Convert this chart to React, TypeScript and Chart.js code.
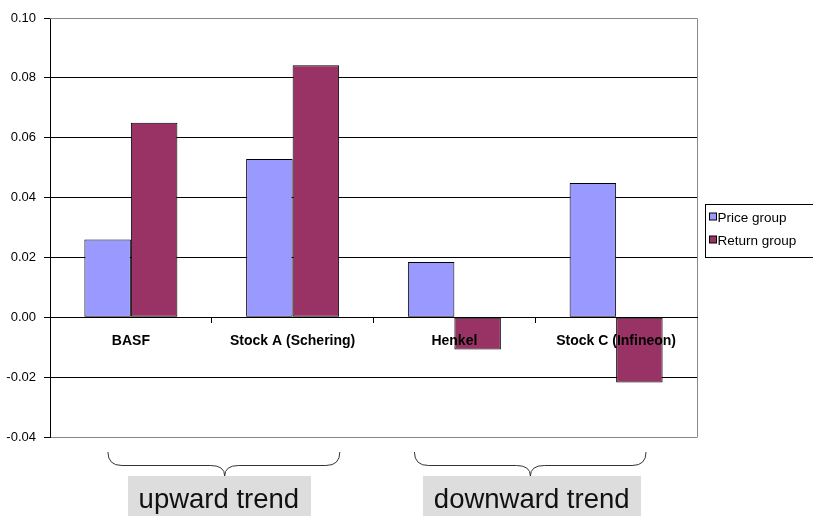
import React, { useEffect, useRef } from 'react';
import { Chart, registerables } from 'chart.js';

Chart.register(...registerables);

const categories = ['BASF', 'Stock A (Schering)', 'Henkel', 'Stock C (Infineon)'];
const seriesNames = ['Price group', 'Return group'];
const priceGroup = [0.026, 0.0529, 0.0185, 0.0449];
const returnGroup = [0.065, 0.0842, -0.0108, -0.0218];
const yTicks = [-0.04, -0.02, 0, 0.02, 0.04, 0.06, 0.08, 0.1];
const trendLabels = ['upward trend', 'downward trend'];

const FONT = "Arial, 'Liberation Sans', sans-serif";
const COLORS = ['#9999FF', '#993366'];

// brace geometry in category units (left end, tip, right end) and label centre
const BRACES = [
  { from: -0.142, tip: 0.58, to: 1.292, label: 0.544 },
  { from: 1.753, tip: 2.47, to: 3.185, label: 2.478 },
];

const decorPlugin = {
  id: 'decor',
  beforeDatasetsDraw(chart: any) {
    const { ctx, chartArea } = chart;
    ctx.save();
    ctx.strokeStyle = '#888';
    ctx.lineWidth = 1;
    ctx.beginPath();
    ctx.moveTo(chartArea.left, Math.round(chartArea.top) + 0.5);
    ctx.lineTo(Math.round(chartArea.right) + 0.5, Math.round(chartArea.top) + 0.5);
    ctx.lineTo(Math.round(chartArea.right) + 0.5, Math.round(chartArea.bottom) + 0.5);
    ctx.stroke();
    ctx.restore();
  },
  afterDraw(chart: any) {
    const { ctx, chartArea } = chart;
    const xs = chart.scales.x;
    ctx.save();
    // legend
    const lx = Math.round(chartArea.right) + 8.5;
    const ly = 204.5;
    ctx.fillStyle = '#fff';
    ctx.fillRect(lx, ly, 140, 53);
    ctx.strokeStyle = '#000';
    ctx.lineWidth = 1;
    ctx.strokeRect(lx, ly, 140, 53);
    ctx.font = `13.5px ${FONT}`;
    ctx.textBaseline = 'middle';
    ctx.textAlign = 'left';
    chart.data.datasets.forEach((ds: any, i: number) => {
      const cy = 217 + i * 23;
      ctx.fillStyle = ds.backgroundColor;
      ctx.fillRect(lx + 4, cy - 4, 7, 7);
      ctx.strokeStyle = '#000';
      ctx.strokeRect(lx + 4, cy - 4, 7, 7);
      ctx.fillStyle = '#000';
      ctx.fillText(ds.label, lx + 12, cy + 1);
    });

    // braces
    const yTop = 452;
    const yMid = 465.5;
    const yTip = 476;
    const r = 14;
    ctx.strokeStyle = '#333';
    ctx.lineWidth = 1;
    BRACES.forEach((b, i) => {
      const x1 = xs.getPixelForValue(b.from);
      const x2 = xs.getPixelForValue(b.to);
      const xt = xs.getPixelForValue(b.tip);
      ctx.beginPath();
      ctx.moveTo(x1, yTop);
      ctx.quadraticCurveTo(x1, yMid, x1 + r, yMid);
      ctx.lineTo(xt - r, yMid);
      ctx.quadraticCurveTo(xt, yMid, xt, yTip);
      ctx.moveTo(x2, yTop);
      ctx.quadraticCurveTo(x2, yMid, x2 - r, yMid);
      ctx.lineTo(xt + r, yMid);
      ctx.quadraticCurveTo(xt, yMid, xt, yTip);
      ctx.stroke();

      // label box
      const text = trendLabels[i];
      ctx.font = `27.5px ${FONT}`;
      const tw = ctx.measureText(text).width;
      const cx = xs.getPixelForValue(b.label);
      const bw = tw + 22;
      ctx.fillStyle = '#DDDDDD';
      ctx.fillRect(Math.round(cx - bw / 2), 476, Math.round(bw), 45);
      ctx.fillStyle = '#111';
      ctx.textAlign = 'center';
      ctx.textBaseline = 'alphabetic';
      ctx.fillText(text, cx, 508);
    });
    ctx.restore();
  },
};

export default function App() {
  const ref = useRef<HTMLCanvasElement | null>(null);

  useEffect(() => {
    if (!ref.current) return;
    const chart = new Chart(ref.current, {
      type: 'bar',
      data: {
        labels: categories,
        datasets: [
          {
            label: seriesNames[0],
            data: priceGroup,
            backgroundColor: COLORS[0],
            borderColor: '#000',
            borderWidth: 1,
            borderSkipped: false,
            barPercentage: 1,
            categoryPercentage: 0.575,
          },
          {
            label: seriesNames[1],
            data: returnGroup,
            backgroundColor: COLORS[1],
            borderColor: '#000',
            borderWidth: 1,
            borderSkipped: false,
            barPercentage: 1,
            categoryPercentage: 0.575,
          },
        ],
      },
      options: {
        responsive: false,
        animation: false,
        layout: { padding: { left: 0, right: 116, top: 18, bottom: 79 } },
        plugins: {
          legend: { display: false },
          tooltip: { enabled: false },
        },
        scales: {
          x: {
            position: { y: 0 } as any,
            offset: true,
            grid: {
              display: true,
              drawOnChartArea: false,
              drawTicks: true,
              tickLength: 5,
              color: '#000',
              offset: true,
            },
            border: { display: true, color: '#000', z: 1 },
            ticks: {
              z: 1,
              font: { family: FONT, size: 14, weight: 'bold' },
              color: '#000',
              padding: 10,
              maxRotation: 0,
              autoSkip: false,
            },
          },
          y: {
            min: -0.04,
            max: 0.1,
            afterFit: (s: any) => {
              s.width = 50;
            },
            afterBuildTicks: (s: any) => {
              s.ticks = yTicks.map((v) => ({ value: v }));
            },
            grid: {
              color: (c: any) =>
                c.tick && (c.tick.value > 0.099 || c.tick.value < -0.039) ? '#888' : '#000',
              tickColor: '#000',
              tickLength: 6,
              lineWidth: 1,
            },
            border: { color: '#000' },
            ticks: {
              font: { family: FONT, size: 13 },
              color: '#000',
              padding: 8,
              callback: (v: any) => Number(v).toFixed(2),
            },
          },
        },
      },
      plugins: [decorPlugin],
    } as any);
    return () => chart.destroy();
  }, []);

  return (
    <div style={{ position: 'absolute', left: 0, top: 0, width: 813, height: 516, background: '#fff' }}>
      <canvas ref={ref} width={813} height={516} style={{ display: 'block' }} />
    </div>
  );
}
